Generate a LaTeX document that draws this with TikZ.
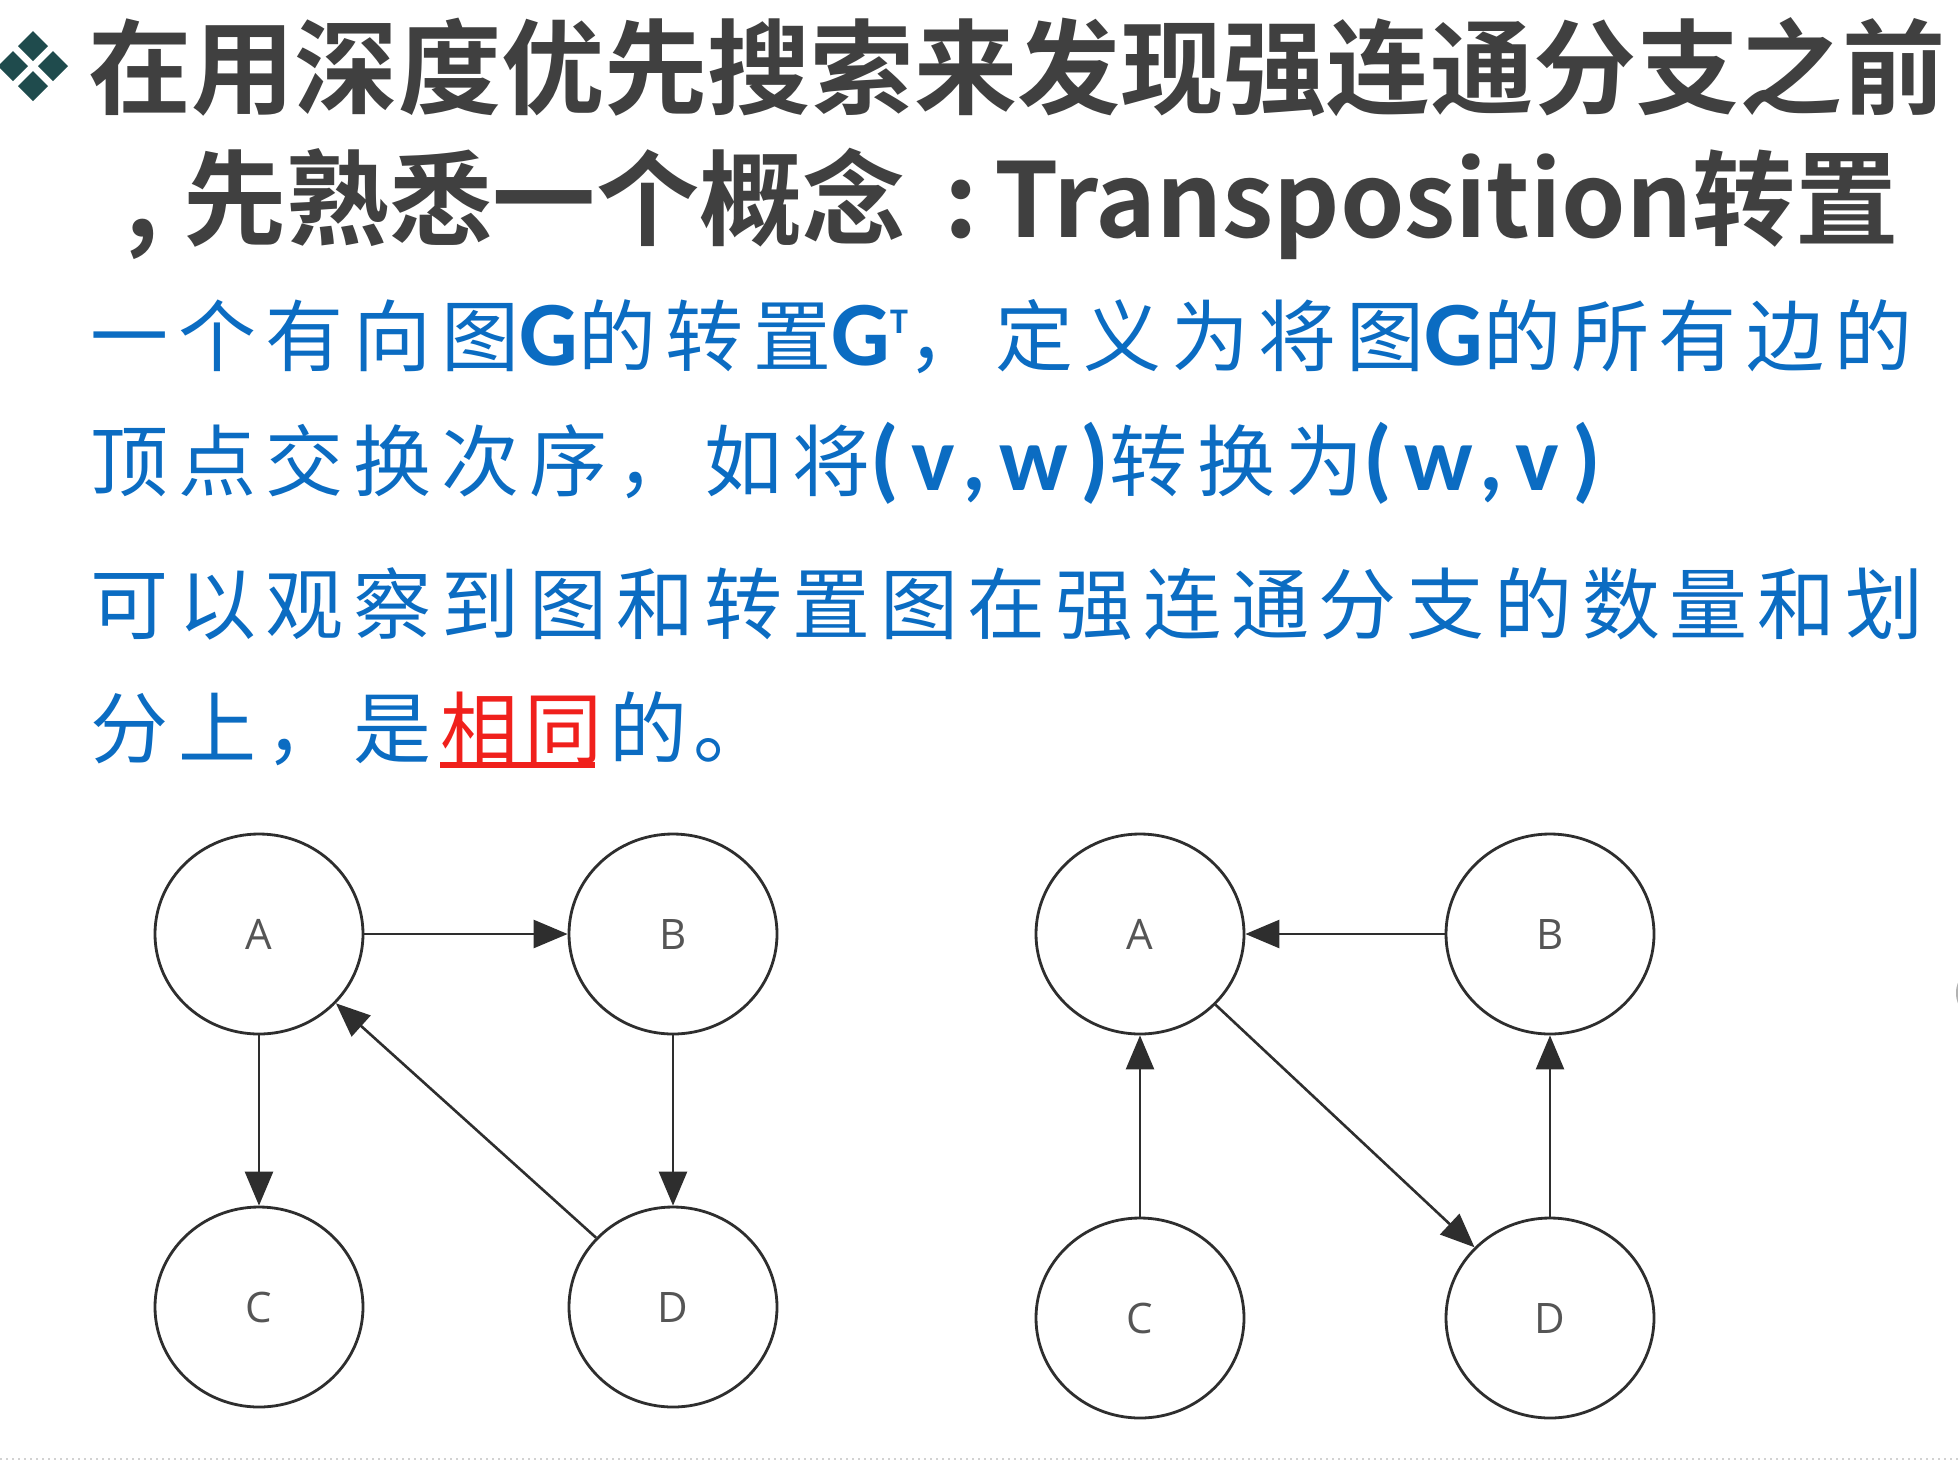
\documentclass[tikz,border=0pt]{standalone}
\usepackage{fontspec}
\usetikzlibrary{arrows.meta,shapes.geometric}

\newfontfamily\titlefont{Noto Sans CJK SC Bold}
\newfontfamily\bodycjk[LetterSpace=12.5]{Noto Sans CJK SC}
\newfontfamily\bodylatin[LetterSpace=14]{Carlito Bold}
\newfontfamily\labelfont{Open Sans}

\definecolor{titlegray}{HTML}{404040}
\definecolor{bulletteal}{HTML}{1F4B4D}
\definecolor{textblue}{HTML}{0B6CC2}
\definecolor{textred}{HTML}{F0201C}
\definecolor{edgegray}{HTML}{2E2E2E}
\definecolor{labelgray}{HTML}{555555}

\newcommand\lat[1]{{\bodylatin\fontsize{46}{46}\selectfont #1}}
\newcommand\supT{\raisebox{16pt}{\bodylatin\fontsize{18}{18}\selectfont T}}

\tikzset{
  titleline/.style={anchor=base west, inner sep=0, text=titlegray,
    font=\titlefont\fontsize{51.6}{51.6}\selectfont},
  bodyline/.style={anchor=base west, inner sep=0, text=textblue,
    font=\bodycjk\fontsize{39}{39}\selectfont},
  gnode/.style={ellipse, draw=edgegray, line width=1.4pt, inner sep=0,
    minimum width=104pt, minimum height=100pt, text=labelgray,
    font=\labelfont\fontsize{21}{21}\selectfont},
  edge/.style={draw=edgegray, line width=1.3pt,
    -{Triangle[length=17pt,width=14pt]}},
  diamondmark/.style={fill=bulletteal}
}

\begin{document}
\begin{tikzpicture}[x=0.5pt,y=-0.5pt]
  % page
  \fill[white] (0,0) rectangle (1958,1462);
  \useasboundingbox (0,0) rectangle (1958,1462);

  % bullet: four small diamonds
  \foreach \dx/\dy in {0/-20, 0/20, -20/0, 20/0}{
    \fill[diamondmark] ({33+\dx},{66+\dy-15}) -- ({33+\dx+15},{66+\dy})
      -- ({33+\dx},{66+\dy+15}) -- ({33+\dx-15},{66+\dy}) -- cycle;
  }

  % heading
  \node[titleline] (t1) at (88,106) {在用深度优先搜索来发现强连通分支之前};
  \node[titleline] (t2) at (88,237)
    {\hbox to 0.92em{\hskip 0.36em,\hss}先熟悉一个概念\hbox to 0.86em{\hskip 0.38em:\hss}Transposition转置};

  % body text
  \node[bodyline] (b1) at (90,365)
    {一个有向图\lat{G}的转置\lat{G\supT}，定义为将图\lat{G}的所有边的};
  \node[bodyline] (b2) at (90,490)
    {顶点交换次序，如将\lat{(v,w)}转换为\lat{(w,v)}};
  \node[bodyline] (b3) at (90,633)
    {可以观察到图和转置图在强连通分支的数量和划};
  \node[bodyline] (b4a) at (90,757) {分上，是};
  \node[bodyline, anchor=base west, text=textred] (b4r)
    at ([xshift=4pt]b4a.base east) {相\kern3pt 同};
  \node[bodyline, anchor=base west] (b4c)
    at ([xshift=3pt]b4r.base east) {的\kern3pt 。};
  \draw[textred, line width=2.6pt]
    ([yshift=-4pt]b4r.base west) -- ([yshift=-4pt,xshift=-4pt]b4r.base east);

  % graph G
  \node[gnode] (ga) at (259,934)  {A};
  \node[gnode] (gb) at (673,934)  {B};
  \node[gnode] (gc) at (259,1307) {C};
  \node[gnode] (gd) at (673,1307) {D};
  \draw[edge] (ga) -- (gb);
  \draw[edge] (ga) -- (gc);
  \draw[edge] (gb) -- (gd);
  \draw[edge] (gd) -- (ga);

  % transposed graph
  \node[gnode] (ta) at (1140,934)  {A};
  \node[gnode] (tb) at (1550,934)  {B};
  \node[gnode] (tc) at (1140,1318) {C};
  \node[gnode] (td) at (1550,1318) {D};
  \draw[edge] (tb) -- (ta);
  \draw[edge] (tc) -- (ta);
  \draw[edge] (td) -- (tb);
  \draw[edge] (ta) -- (td);

  % small mark at the right edge and dotted footer rule
  \fill[gray!60] (1962,993) ellipse [x radius=6, y radius=14];
  \draw[gray!35, line width=1pt, dotted] (0,1459) -- (1958,1459);
\end{tikzpicture}
\end{document}
